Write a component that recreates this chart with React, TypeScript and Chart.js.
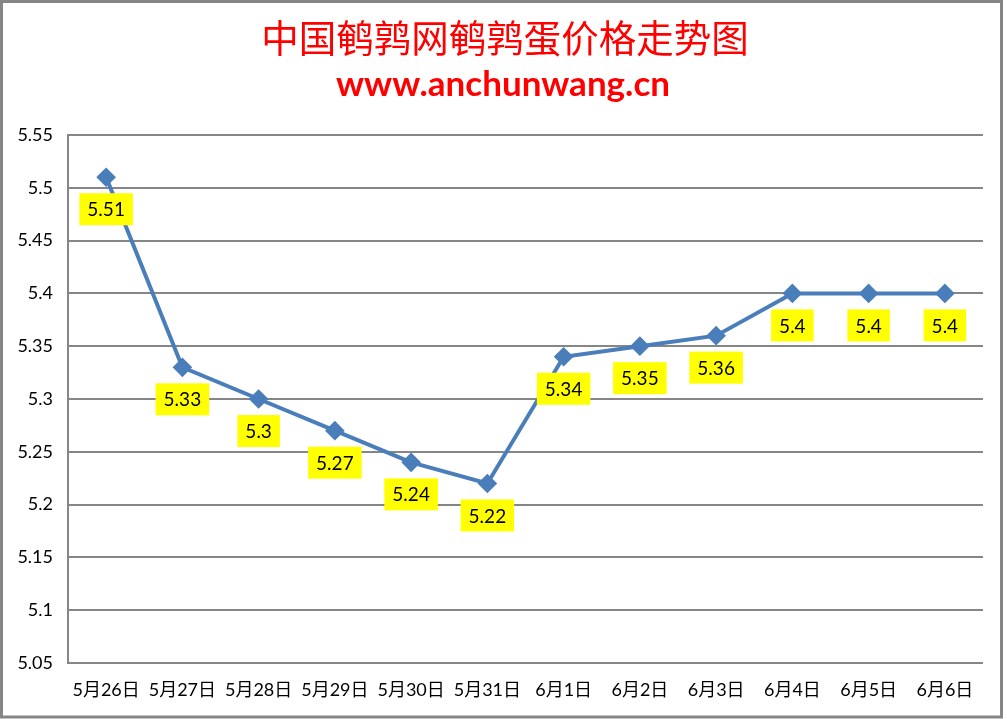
import React, { useEffect, useRef } from "react";
import { Chart, registerables } from "chart.js";

Chart.register(...registerables);

const categories = ["5月26日", "5月27日", "5月28日", "5月29日", "5月30日", "5月31日", "6月1日", "6月2日", "6月3日", "6月4日", "6月5日", "6月6日"];
const prices = [5.51, 5.33, 5.3, 5.27, 5.24, 5.22, 5.34, 5.35, 5.36, 5.4, 5.4, 5.4];
const titleText = "中国鹌鹑网鹌鹑蛋价格走势图";
const subtitleText = "www.anchunwang.cn";
const yMin = 5.05;
const yMax = 5.55;
const yStep = 0.05;

const LINE_COLOR = "#4A7EBB";
const GRID_COLOR = "#868686";

const frameAndTitlePlugin = {
  id: "frameAndTitle",
  beforeDraw(chart: any) {
    const ctx = chart.ctx;
    ctx.save();
    ctx.fillStyle = "#ffffff";
    ctx.fillRect(0, 0, chart.width, chart.height);
    ctx.restore();
  },
  afterDraw(chart: any) {
    const ctx = chart.ctx;
    ctx.save();
    ctx.strokeStyle = GRID_COLOR;
    ctx.lineWidth = 3;
    ctx.strokeRect(1.5, 1.5, 1000, 715.5);
    ctx.fillStyle = "#FF0000";
    ctx.textAlign = "center";
    ctx.textBaseline = "middle";
    ctx.font = "37.5px 'Noto Sans CJK SC'";
    ctx.fillText(titleText, 505, 38);
    ctx.font = "bold 35px Lato, 'Liberation Sans', sans-serif";
    ctx.fillText(subtitleText, 503, 85);
    ctx.restore();
  },
};

const labelPlugin = {
  id: "valueLabels",
  afterDatasetsDraw(chart: any) {
    const ctx = chart.ctx;
    const meta = chart.getDatasetMeta(0);
    ctx.save();
    ctx.font = "19px Lato, 'Liberation Sans', sans-serif";
    ctx.textAlign = "center";
    ctx.textBaseline = "middle";
    meta.data.forEach((pt: any, i: number) => {
      const txt = String(prices[i]);
      const w = ctx.measureText(txt).width + 16;
      const h = 32;
      const top = pt.y + 16;
      ctx.fillStyle = "#FFFF00";
      ctx.fillRect(pt.x - w / 2, top, w, h);
      ctx.fillStyle = "#000000";
      ctx.fillText(txt, pt.x, top + h / 2 + 1);
    });
    ctx.restore();
  },
};

export default function App() {
  const ref = useRef<HTMLCanvasElement>(null);
  useEffect(() => {
    if (!ref.current) return;
    const chart = new Chart(ref.current, {
      type: "line",
      data: {
        labels: categories,
        datasets: [
          {
            data: prices,
            borderColor: LINE_COLOR,
            backgroundColor: LINE_COLOR,
            borderWidth: 4,
            pointStyle: "rectRot",
            pointRadius: 7,
            pointBackgroundColor: LINE_COLOR,
            pointBorderColor: LINE_COLOR,
            tension: 0,
          },
        ],
      },
      options: {
        animation: false,
        responsive: false,
        devicePixelRatio: 1,
        layout: { padding: { left: 0, right: 24, top: 135, bottom: 0 } },
        plugins: {
          legend: { display: false },
          title: { display: false },
          tooltip: { enabled: false },
        },
        scales: {
          x: {
            offset: true,
            grid: { display: false, drawTicks: false },
            border: { display: false },
            ticks: {
              color: "#000",
              font: { size: 18, family: "Lato, 'Noto Sans CJK SC', sans-serif" },
              padding: 16,
              maxRotation: 0,
              autoSkip: false,
            },
            afterFit(scale: any) {
              scale.height = 719 - 663;
            },
          },
          y: {
            min: yMin,
            max: yMax,
            grid: { color: GRID_COLOR, lineWidth: 2, drawTicks: false },
            border: { display: true, color: GRID_COLOR, width: 2 },
            ticks: {
              stepSize: yStep,
              color: "#000",
              padding: 15,
              font: { size: 18, family: "Lato, 'Liberation Sans', sans-serif" },
              callback: (v: any) => String(Math.round(Number(v) * 100) / 100),
            },
            afterFit(scale: any) {
              scale.width = 68;
            },
          },
        },
      },
      plugins: [frameAndTitlePlugin, labelPlugin],
    });
    return () => chart.destroy();
  }, []);
  return (
    <div style={{ position: "fixed", left: 0, top: 0, width: 1007, height: 719, background: "#fff" }}>
      <canvas ref={ref} width={1007} height={719} style={{ display: "block" }} />
    </div>
  );
}
